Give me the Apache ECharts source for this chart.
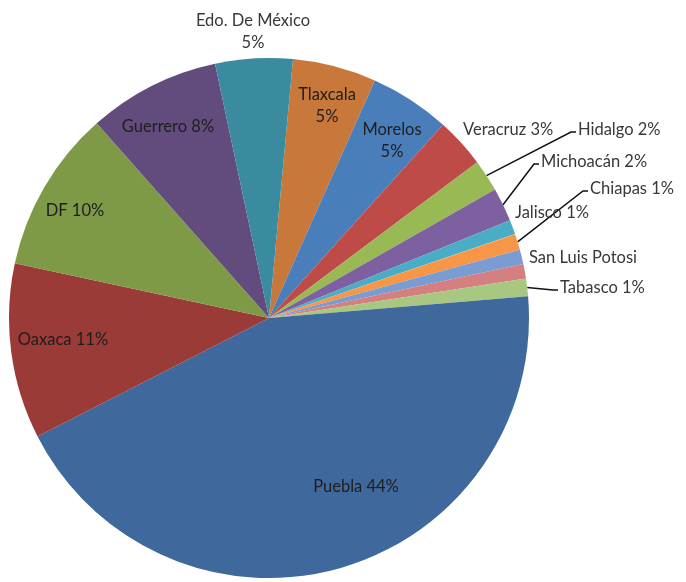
<!DOCTYPE html>
<html>
<head>
<meta charset="utf-8">
<script src="https://cdn.jsdelivr.net/npm/echarts@6/dist/echarts.min.js"></script>
<style>
html,body{margin:0;padding:0;background:#fff;}
#chart{width:686px;height:582px;}
</style>
</head>
<body>
<div id="chart"></div>
<script>
// Data (clockwise from the first slice)
const categories = ['Tlaxcala','Morelos','Veracruz','Hidalgo','Michoacán','Jalisco','Chiapas','San Luis Potosi','Otros','Tabasco','Puebla','Oaxaca','DF','Guerrero','Edo. De México'];
const values = [5.2, 5.0, 3.1, 2.0, 2.1, 0.9, 1.0, 0.9, 0.9, 1.1, 43.8, 10.9, 10.1, 8.2, 4.8];

// Styles
const colors = ['#C8783A','#4A7EBB','#BE4B48','#98B954','#7D60A0','#4BACC6','#F79646','#7A9CD3','#D47F80','#A8C882','#3F689C','#9A3B38','#7F9A46','#624C7E','#3A8BA0'];
const FONT = 'Lato';
// label layout: [x, y, align, leaderLine, position]
const labelSpots = {
  'Tlaxcala': [327, 106, 'center', false, 'inside'],
  'Morelos': [392, 141, 'center', false, 'inside'],
  'Veracruz': [463, 130, 'left', false, 'outside'],
  'Hidalgo': [578, 130, 'left', true, 'outside'],
  'Michoacán': [541, 162, 'left', true, 'outside'],
  'Jalisco': [515, 213, 'left', false, 'outside'],
  'Chiapas': [590, 189, 'left', true, 'outside'],
  'San Luis Potosi': [529, 258, 'left', false, 'outside'],
  'Tabasco': [560, 288, 'left', true, 'outside'],
  'Puebla': [356, 487, 'center', false, 'inside'],
  'Oaxaca': [63, 340, 'center', false, 'inside'],
  'DF': [75, 211, 'center', false, 'inside'],
  'Guerrero': [168, 127, 'center', false, 'inside'],
  'Edo. De México': [253, 32, 'center', false, 'outside']
};
const twoLine = ['Tlaxcala','Morelos','Edo. De México'];

const data = categories.map((name, i) => {
  const spot = labelSpots[name];
  const item = { name: name, value: values[i], itemStyle: { color: colors[i] } };
  if (!spot) {
    item.label = { show: false };
    item.labelLine = { show: false };
    return item;
  }
  let fmt = '{b} {d}%';
  if (twoLine.indexOf(name) >= 0) fmt = '{b}\n{d}%';
  if (name === 'San Luis Potosi') fmt = '{b}';
  item.label = {
    show: true,
    position: spot[4],
    formatter: fmt,
    color: spot[4] === 'inside' ? '#1e1e1e' : '#383838',
    align: spot[2]
  };
  item.labelLine = { show: spot[3], lineStyle: { color: '#111111', width: 1.5 } };
  return item;
});

const chart = echarts.init(document.getElementById('chart'), null, { renderer: 'canvas' });
chart.setOption({
  animation: false,
  backgroundColor: '#ffffff',
  series: [{
    type: 'pie',
    center: [269, 318],
    radius: [0, 260],
    startAngle: 84.7,
    clockwise: true,
    percentPrecision: 0,
    avoidLabelOverlap: false,
    data: data,
    itemStyle: { borderWidth: 0 },
    label: {
      fontFamily: FONT,
      fontSize: 16.5,
      lineHeight: 22
    },
    labelLine: { length: 10, length2: 10 },
    labelLayout: function (params) {
      const name = categories[params.dataIndex];
      const spot = labelSpots[name];
      if (!spot) return {};
      const res = { x: spot[0], y: spot[1], align: spot[2], verticalAlign: 'middle' };
      if (spot[3] && params.labelLinePoints) {
        const p0 = params.labelLinePoints[0];
        res.labelLinePoints = [p0, [spot[0] - 7, spot[1] + 2], [spot[0] - 2, spot[1] + 2]];
      }
      return res;
    }
  }]
});
</script>
</body>
</html>
